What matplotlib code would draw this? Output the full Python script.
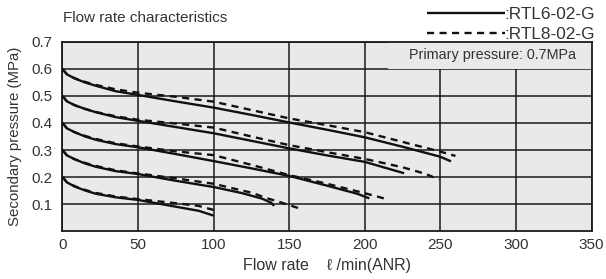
import matplotlib
matplotlib.use("Agg")
import matplotlib.pyplot as plt
from matplotlib.patches import Rectangle

plt.rcParams['font.family'] = ['Liberation Sans', 'DejaVu Sans']

# ---- data ----
x_ticks = [0, 50, 100, 150, 200, 250, 300, 350]
y_ticks = [0.1, 0.2, 0.3, 0.4, 0.5, 0.6, 0.7]

# RTL6-02-G (solid)
s06_x = [0, 3, 8, 15, 22, 35, 50, 75, 100, 125, 150, 175, 200, 225, 250, 257]
s06_y = [0.60, 0.58, 0.565, 0.55, 0.538, 0.518, 0.504, 0.48, 0.457, 0.43, 0.402, 0.375, 0.347, 0.312, 0.275, 0.258]
s05_x = [0, 3, 8, 15, 22, 35, 50, 75, 100, 125, 150, 175, 200, 226]
s05_y = [0.50, 0.48, 0.466, 0.452, 0.44, 0.422, 0.408, 0.385, 0.362, 0.334, 0.306, 0.28, 0.256, 0.214]
s04_x = [0, 3, 8, 15, 22, 35, 50, 75, 100, 125, 150, 175, 195, 203]
s04_y = [0.40, 0.38, 0.366, 0.35, 0.338, 0.322, 0.31, 0.285, 0.259, 0.232, 0.204, 0.168, 0.138, 0.121]
s03_x = [0, 3, 8, 15, 22, 35, 50, 75, 100, 119, 132, 138, 140]
s03_y = [0.30, 0.28, 0.266, 0.25, 0.238, 0.222, 0.211, 0.186, 0.163, 0.14, 0.12, 0.105, 0.093]
s02_x = [0, 3, 8, 15, 22, 35, 50, 75, 90, 100]
s02_y = [0.20, 0.18, 0.165, 0.15, 0.138, 0.125, 0.115, 0.09, 0.075, 0.057]

# RTL8-02-G (dashed)
d06_x = [0, 3, 8, 15, 22, 35, 50, 75, 100, 125, 150, 175, 200, 225, 250, 260]
d06_y = [0.60, 0.58, 0.566, 0.552, 0.541, 0.525, 0.512, 0.497, 0.479, 0.448, 0.417, 0.392, 0.366, 0.33, 0.294, 0.278]
d05_x = [0, 3, 8, 15, 22, 35, 50, 75, 100, 125, 150, 175, 200, 225, 240, 249]
d05_y = [0.50, 0.48, 0.466, 0.452, 0.441, 0.425, 0.412, 0.398, 0.383, 0.35, 0.318, 0.292, 0.267, 0.236, 0.212, 0.191]
d04_x = [0, 3, 8, 15, 22, 35, 50, 75, 100, 125, 150, 175, 200, 210, 215]
d04_y = [0.40, 0.38, 0.366, 0.352, 0.341, 0.325, 0.313, 0.295, 0.281, 0.245, 0.207, 0.175, 0.14, 0.125, 0.117]
d03_x = [0, 3, 8, 15, 22, 35, 50, 75, 100, 115, 125, 135, 145, 156]
d03_y = [0.30, 0.28, 0.266, 0.252, 0.241, 0.225, 0.213, 0.195, 0.175, 0.155, 0.142, 0.122, 0.105, 0.085]
d02_x = [0, 3, 8, 15, 22, 35, 50, 75, 90, 102]
d02_y = [0.20, 0.18, 0.166, 0.152, 0.141, 0.128, 0.118, 0.103, 0.093, 0.075]

solid = [(s06_x, s06_y), (s05_x, s05_y), (s04_x, s04_y), (s03_x, s03_y), (s02_x, s02_y)]
dashed = [(d06_x, d06_y), (d05_x, d05_y), (d04_x, d04_y), (d03_x, d03_y), (d02_x, d02_y)]

fig = plt.figure(figsize=(6.06, 2.79), dpi=100)
ax = fig.add_axes([0.1031, 0.172, 0.8730, 0.6775])
ax.set_facecolor('#e9e9e9')
ax.set_xlim(0, 350)
ax.set_ylim(0, 0.7)
ax.set_xticks(x_ticks)
ax.set_yticks(y_ticks)
ax.set_xticklabels([str(v) for v in x_ticks])
ax.set_yticklabels([f"{v:.1f}" for v in y_ticks])
ax.tick_params(length=0, labelsize=11, colors='#333333')
ax.tick_params(axis='y', pad=7)
ax.tick_params(axis='x', pad=5)
ax.grid(True, color='#1a1a1a', linewidth=1.1)
ax.set_axisbelow(True)
for sp in ax.spines.values():
    sp.set_color('#1a1a1a')
    sp.set_linewidth(1.3)

lc = '#111111'
for i, (xs, ys) in enumerate(solid):
    ax.plot(xs, ys, color=lc, lw=1.7, solid_capstyle='butt',
            label=':RTL6-02-G' if i == 0 else None, zorder=3)
for i, (xs, ys) in enumerate(dashed):
    ax.plot(xs, ys, color=lc, lw=1.7, linestyle=(0, (3.0, 2.3)),
            label=':RTL8-02-G' if i == 0 else None, zorder=3)

# box hiding the grid behind the annotation
ax.add_patch(Rectangle((0.615, 6 / 7), 0.385, 1 / 7, transform=ax.transAxes,
                       facecolor='#e9e9e9', edgecolor='none', zorder=1.5))
ax.text(0.971, 0.931, 'Primary pressure: 0.7MPa', transform=ax.transAxes,
        ha='right', va='center', fontsize=10.4, color='#333333', zorder=4)

ax.set_xlabel('Flow rate    \u2113 /min(ANR)', fontsize=11.5, color='#333333', labelpad=4)
ax.set_ylabel('Secondary pressure (MPa)', fontsize=10.8, color='#333333', labelpad=7)

fig.text(0.104, 0.937, 'Flow rate characteristics', fontsize=11, color='#333333',
         ha='left', va='center')

fig.legend(loc='upper right', bbox_to_anchor=(0.982, 0.976), frameon=False,
           fontsize=12.4, handlelength=4.5, handletextpad=0.0, labelspacing=0.32,
           labelcolor='#333333', borderaxespad=0.0, borderpad=0.0)

fig.savefig('out.png', dpi=100)
